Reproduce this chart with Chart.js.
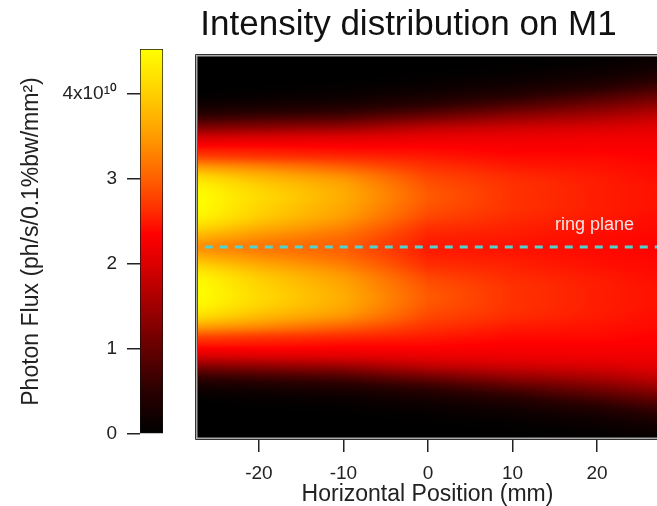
<!DOCTYPE html>
<html>
<head>
<meta charset="utf-8">
<script src="https://cdn.jsdelivr.net/npm/chart.js@4.4.1/dist/chart.umd.min.js"></script>
<style>
  html, body { margin: 0; padding: 0; background: #fff; overflow: hidden; }
  #wrap { position: relative; width: 657px; height: 506px; }
  #cb { position: absolute; left: 0; top: 0; }
  #main { position: absolute; left: 160px; top: 0; }
</style>
</head>
<body>
<div id="wrap">
  <canvas id="cb" width="180" height="506"></canvas>
  <canvas id="main" width="497" height="506"></canvas>
</div>
<script>
// horizontal sample positions (mm) and vertical rows (plot units, ring plane = 0)
const POS_X = [-27.2, -20, -10, 0, 10, 20, 27.1];
const POS_Y = [19, 18, 17, 16, 15, 14, 13, 12, 11, 10, 9, 8, 7, 6, 5, 4, 3, 2, 1, 0,
  -1, -2, -3, -4, -5, -6, -7, -8, -9, -10, -11, -12, -13, -14, -15, -16, -17, -18, -19];

// photon flux (x10^10), one vertical profile per horizontal position, top to bottom
const FLUX_XM27 = [0,0,0,0,0.05,0.25,0.6,1.2,1.9,2.4,2.8,3.5,4.1,4.4,4.5,4.5,4.4,4.1,3.7,3.4,3.7,4.1,4.4,4.5,4.5,4.4,4.1,3.5,2.8,2.4,1.9,1.2,0.6,0.25,0.05,0,0,0,0];
const FLUX_XM20 = [0,0,0,0.02,0.1,0.3,0.7,1.3,1.95,2.4,2.7,3.3,3.75,4.0,4.1,4.05,3.95,3.7,3.4,3.2,3.4,3.7,3.95,4.05,4.1,4.0,3.75,3.3,2.7,2.4,1.95,1.3,0.7,0.3,0.1,0.02,0,0,0];
const FLUX_XM10 = [0,0,0,0.05,0.15,0.4,0.8,1.4,2.0,2.35,2.6,3.0,3.4,3.6,3.65,3.6,3.5,3.3,3.1,3.0,3.1,3.3,3.5,3.6,3.65,3.6,3.4,3.0,2.6,2.35,2.0,1.4,0.8,0.4,0.15,0.05,0,0,0];
const FLUX_X0   = [0,0,0.04,0.12,0.3,0.6,1.1,1.7,2.1,2.35,2.5,2.65,2.8,2.9,2.95,2.9,2.8,2.65,2.55,2.5,2.55,2.65,2.8,2.9,2.95,2.9,2.8,2.65,2.5,2.35,2.1,1.7,1.1,0.6,0.3,0.12,0.04,0,0];
const FLUX_X10  = [0,0.03,0.1,0.25,0.5,0.9,1.4,1.85,2.15,2.3,2.4,2.5,2.6,2.65,2.65,2.65,2.6,2.55,2.5,2.45,2.5,2.55,2.6,2.65,2.65,2.65,2.6,2.5,2.4,2.3,2.15,1.85,1.4,0.9,0.5,0.25,0.1,0.03,0];
const FLUX_X20  = [0.03,0.1,0.22,0.45,0.8,1.2,1.6,1.95,2.2,2.3,2.4,2.45,2.5,2.52,2.52,2.52,2.5,2.45,2.42,2.4,2.42,2.45,2.5,2.52,2.52,2.52,2.5,2.45,2.4,2.3,2.2,1.95,1.6,1.2,0.8,0.45,0.22,0.1,0.03];
const FLUX_X27  = [0.1,0.2,0.4,0.7,1.05,1.45,1.8,2.05,2.2,2.3,2.35,2.4,2.42,2.45,2.45,2.45,2.42,2.4,2.38,2.35,2.38,2.4,2.42,2.45,2.45,2.45,2.42,2.4,2.35,2.3,2.2,2.05,1.8,1.45,1.05,0.7,0.4,0.2,0.1];
const FLUX_COLUMNS = [FLUX_XM27, FLUX_XM20, FLUX_XM10, FLUX_X0, FLUX_X10, FLUX_X20, FLUX_X27];

// ring plane marker
const RING_X = [-26.4, 27.1];
const RING_Y = [0, 0];

// colour bar range and ticks
const CB_MAX = 4.52;
const CB_TICKS = [0, 1, 2, 3, 4];

// colour map (value x10^10 -> rgb)
const CMAP_V = [0, 0.5, 1.0, 1.5, 2.0, 2.35, 2.6, 3.0, 3.5, 4.0, 4.52];
const CMAP_C = [[0,0,0],[42,0,0],[101,0,0],[160,0,0],[220,0,0],[255,0,0],[255,42,0],[255,96,0],[255,156,0],[255,208,0],[255,255,0]];

Chart.defaults.font.family = "'Liberation Sans', Arial, sans-serif";
Chart.defaults.color = "#222";

function fluxColor(v) {
  if (v <= CMAP_V[0]) return CMAP_C[0];
  for (let i = 1; i < CMAP_V.length; i++) {
    if (v <= CMAP_V[i]) {
      const t = (v - CMAP_V[i - 1]) / (CMAP_V[i] - CMAP_V[i - 1]);
      const a = CMAP_C[i - 1], b = CMAP_C[i];
      return [a[0] + (b[0] - a[0]) * t, a[1] + (b[1] - a[1]) * t, a[2] + (b[2] - a[2]) * t];
    }
  }
  return CMAP_C[CMAP_C.length - 1];
}

function catmull(p0, p1, p2, p3, t) {
  return 0.5 * (2 * p1 + (-p0 + p2) * t + (2 * p0 - 5 * p1 + 4 * p2 - p3) * t * t + (-p0 + 3 * p1 - 3 * p2 + p3) * t * t * t);
}

function columnAt(col, y) {
  let j = 0;
  while (j < POS_Y.length - 2 && y < POS_Y[j + 1]) j++;
  let t = (POS_Y[j] - y) / (POS_Y[j] - POS_Y[j + 1]);
  t = Math.max(0, Math.min(1, t));
  const n = col.length;
  const p = k => col[Math.max(0, Math.min(n - 1, k))];
  return Math.max(0, catmull(p(j - 1), p(j), p(j + 1), p(j + 2), t));
}

function sampleFlux(x, y) {
  let i = 0;
  while (i < POS_X.length - 2 && x > POS_X[i + 1]) i++;
  let t = (x - POS_X[i]) / (POS_X[i + 1] - POS_X[i]);
  t = Math.max(0, Math.min(1, t));
  return columnAt(FLUX_COLUMNS[i], y) * (1 - t) + columnAt(FLUX_COLUMNS[i + 1], y) * t;
}

const heatmapPlugin = {
  id: "heatmap",
  beforeDatasetsDraw(chart) {
    const { ctx, chartArea: a, scales: { x, y } } = chart;
    const w = Math.round(a.right - a.left), h = Math.round(a.bottom - a.top);
    const off = document.createElement("canvas");
    off.width = w; off.height = h;
    const octx = off.getContext("2d");
    const img = octx.createImageData(w, h);
    const xs = [];
    for (let px = 0; px < w; px++) xs.push(x.getValueForPixel(a.left + px + 0.5));
    for (let py = 0; py < h; py++) {
      const yv = y.getValueForPixel(a.top + py + 0.5);
      for (let px = 0; px < w; px++) {
        const c = fluxColor(sampleFlux(xs[px], yv));
        const k = (py * w + px) * 4;
        img.data[k] = c[0]; img.data[k + 1] = c[1]; img.data[k + 2] = c[2]; img.data[k + 3] = 255;
      }
    }
    octx.putImageData(img, 0, 0);
    ctx.drawImage(off, a.left, a.top);
  },
  afterDatasetsDraw(chart) {
    const { ctx, scales: { x, y } } = chart;
    ctx.save();
    ctx.fillStyle = "#f3e4e4";
    ctx.font = "18px 'Liberation Sans', Arial, sans-serif";
    ctx.textAlign = "center";
    ctx.textBaseline = "middle";
    ctx.fillText("ring plane", x.getPixelForValue(19.7), y.getPixelForValue(2.2));
    ctx.restore();
  },
  afterDraw(chart) {
    const { ctx, chartArea: a } = chart;
    ctx.save();
    const lines = [["#333", 0.5], ["#aaa", 1.5], ["#555", 2.5]];
    lines.forEach(([col, o]) => {
      ctx.strokeStyle = col;
      ctx.lineWidth = 1;
      ctx.beginPath();
      ctx.moveTo(a.right + 5, a.top - 3 + o);
      ctx.lineTo(a.left - 3 + o, a.top - 3 + o);
      ctx.lineTo(a.left - 3 + o, a.bottom + 3 - o);
      ctx.lineTo(a.right + 5, a.bottom + 3 - o);
      ctx.stroke();
    });
    ctx.restore();
  }
};

function cbGradient(chart) {
  const area = chart.chartArea;
  if (!area) return "#f00";
  const y = chart.scales.y;
  const g = chart.ctx.createLinearGradient(0, y.getPixelForValue(0), 0, y.getPixelForValue(CB_MAX));
  CMAP_V.forEach((v, i) => {
    const c = CMAP_C[i];
    g.addColorStop(Math.min(1, v / CB_MAX), `rgb(${c[0]},${c[1]},${c[2]})`);
  });
  return g;
}

new Chart(document.getElementById("cb"), {
  type: "bar",
  data: {
    labels: ["flux"],
    datasets: [{
      data: [[0, CB_MAX]],
      backgroundColor: c => cbGradient(c.chart),
      borderColor: "#111",
      borderWidth: 1,
      borderSkipped: false,
      barPercentage: 1,
      categoryPercentage: 1,
    }],
  },
  options: {
    responsive: false,
    animation: false,
    events: [],
    layout: { padding: { left: 0, right: 17, top: 49, bottom: 72 } },
    plugins: { legend: { display: false }, tooltip: { enabled: false } },
    scales: {
      x: { display: false },
      y: {
        min: 0, max: CB_MAX,
        afterFit: s => { s.width = 140; },
        afterBuildTicks: s => { s.ticks = CB_TICKS.map(v => ({ value: v })); },
        ticks: {
          callback: v => v === 4 ? "4x10\u00B9\u2070" : String(v),
          font: { size: 19 }, padding: 10, color: "#222",
        },
        grid: { drawOnChartArea: false, tickLength: 13, color: "#222", lineWidth: 1.5 },
        border: { display: false },
        title: {
          display: true, text: "Photon Flux (ph/s/0.1%bw/mm\u00B2)",
          font: { size: 23 }, color: "#222", padding: { top: 18, bottom: 0 },
        },
      },
    },
  },
});

new Chart(document.getElementById("main"), {
  type: "line",
  data: {
    datasets: [{
      data: RING_X.map((x, i) => ({ x, y: RING_Y[i] })),
      borderColor: "#52d3cf",
      borderWidth: 3,
      borderDash: [8, 7],
      pointRadius: 0,
      fill: false,
    }],
  },
  options: {
    responsive: false,
    animation: false,
    events: [],
    layout: { padding: 0 },
    plugins: {
      legend: { display: false },
      tooltip: { enabled: false },
      title: {
        display: true, text: "Intensity distribution on M1",
        font: { size: 35, weight: "normal" }, color: "#111",
        padding: { top: 4, bottom: 11 },
      },
    },
    scales: {
      x: {
        type: "linear", min: -27.2, max: 27.1,
        afterFit: s => { s.height = 69; },
        ticks: { stepSize: 10, includeBounds: false, font: { size: 19 }, padding: 10, color: "#222" },
        grid: { drawOnChartArea: false, tickLength: 15, color: "#222", lineWidth: 1.5 },
        border: { display: false },
        title: { display: true, text: "Horizontal Position (mm)", font: { size: 23, lineHeight: 1 }, color: "#222", padding: 0 },
      },
      y: {
        type: "linear", min: -19, max: 19,
        afterFit: s => { s.width = 38; },
        ticks: { display: false },
        grid: { display: false },
        border: { display: false },
      },
    },
  },
  plugins: [heatmapPlugin],
});
</script>
</body>
</html>
